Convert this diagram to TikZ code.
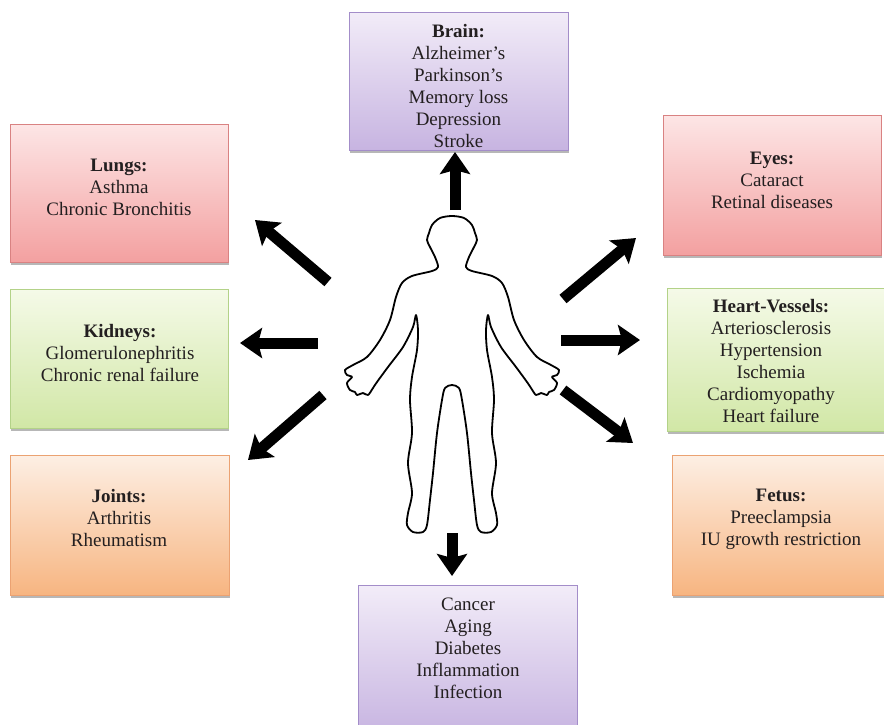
\documentclass[tikz,border=0pt]{standalone}
\usepackage{fontspec}
\setmainfont{Liberation Serif}
\usetikzlibrary{arrows.meta,shadows}

% panel colours: light top, deeper bottom, darker edge
\definecolor{PurpleTop}{HTML}{F2ECF8}
\definecolor{PurpleBot}{HTML}{C7B4E1}
\definecolor{PurpleEdge}{HTML}{A38DC9}
\definecolor{RedTop}{HTML}{FDE6E6}
\definecolor{RedBot}{HTML}{F3A0A0}
\definecolor{RedEdge}{HTML}{D98282}
\definecolor{GreenTop}{HTML}{F5FAE8}
\definecolor{GreenBot}{HTML}{D1E7A6}
\definecolor{GreenEdge}{HTML}{B3D288}
\definecolor{OrangeTop}{HTML}{FDEFE4}
\definecolor{OrangeBot}{HTML}{F7B581}
\definecolor{OrangeEdge}{HTML}{EBA272}
\definecolor{TextInk}{HTML}{231F20}

\begin{document}
\begin{tikzpicture}[x=1pt,y=-1pt,
  panel/.style={rectangle, line width=0.8pt,
    drop shadow={shadow xshift=1.2pt,shadow yshift=-2.5pt,opacity=0.4,fill=black!70}},
  purplepanel/.style={panel, draw=PurpleEdge, top color=PurpleTop, bottom color=PurpleBot},
  redpanel/.style={panel, draw=RedEdge, top color=RedTop, bottom color=RedBot},
  greenpanel/.style={panel, draw=GreenEdge, top color=GreenTop, bottom color=GreenBot},
  orangepanel/.style={panel, draw=OrangeEdge, top color=OrangeTop, bottom color=OrangeBot},
  boxtext/.style={align=center, text=TextInk, inner sep=0pt,
    font=\fontsize{19}{22}\selectfont},
  bigarrow/.style={line width=11pt, draw=black,
    -{Stealth[length=22pt,width=30pt,inset=4pt]}},
  body/.style={line width=1.8pt, line join=round}
]
\useasboundingbox (0,0) rectangle (884,724);
\fill[white] (0,0) rectangle (884,724);

% ---- panels ----
\node[purplepanel, minimum width=219pt, minimum height=138pt] (brainBox)  at (458.5,81)  {};
\node[redpanel,    minimum width=218pt, minimum height=138pt] (lungsBox)  at (119,193)   {};
\node[redpanel,    minimum width=218pt, minimum height=140pt] (eyesBox)   at (772,185)   {};
\node[greenpanel,  minimum width=218pt, minimum height=139pt] (kidneyBox) at (119,358.5) {};
\node[greenpanel,  minimum width=217pt, minimum height=143pt] (heartBox)  at (775.5,359.5) {};
\node[orangepanel, minimum width=219pt, minimum height=140pt] (jointBox)  at (119.5,525) {};
\node[orangepanel, minimum width=218pt, minimum height=140pt] (fetusBox)  at (781,525)   {};
\node[purplepanel, minimum width=219pt, minimum height=150pt] (generalBox) at (467.5,660) {};

% ---- panel texts ----
\node[boxtext] (brainText) at (458.5,86)
  {\textbf{Brain:}\\Alzheimer’s\\Parkinson’s\\Memory loss\\Depression\\Stroke};
\node[boxtext] (lungsText) at (119,187)
  {\textbf{Lungs:}\\Asthma\\Chronic Bronchitis};
\node[boxtext] (eyesText) at (772,180.5)
  {\textbf{Eyes:}\\Cataract\\Retinal diseases};
\node[boxtext] (kidneyText) at (120,352.5)
  {\textbf{Kidneys:}\\Glomerulonephritis\\Chronic renal failure};
\node[boxtext] (heartText) at (771,361)
  {\textbf{Heart-Vessels:}\\Arteriosclerosis\\Hypertension\\Ischemia\\Cardiomyopathy\\Heart failure};
\node[boxtext] (jointText) at (119,518)
  {\textbf{Joints:}\\Arthritis\\Rheumatism};
\node[boxtext] (fetusText) at (781,519)
  {\textbf{Fetus:}\\Preeclampsia\\IU growth restriction};
\node[boxtext] (generalText) at (468,648.5)
  {Cancer\\Aging\\Diabetes\\Inflammation\\Infection};

% ---- body outline ----
\draw[body] plot[smooth cycle, tension=0.5] coordinates {
  (452,216) (440,218) (432,225) (429,233) (427,240) (430,247) (435,257) (438,267)
  (432,271) (412,276) (402,283) (396,297) (390,320) (380,340) (367,357) (353,365)
  (345,370) (347,375) (352,377) (347,383) (350,390) (355,392) (357,395) (363,393)
  (368,395) (373,388) (377,382) (388,367) (403,347) (413,327) (416,315) (418,330)
  (417,350) (412,377) (410,400) (412,433) (408,463) (412,493) (408,513) (407,525)
  (413,532) (423,532) (427,525) (430,500) (433,473) (437,433) (442,400) (445,388)
  (452,385)
  (459,388) (462,400) (467,433) (471,473) (474,500) (477,525) (481,532) (491,532)
  (497,525) (496,513) (492,493) (496,463) (492,433) (494,400) (492,377) (487,350)
  (486,330) (488,315) (491,327) (501,347) (516,367) (527,382) (531,388) (536,395)
  (541,393) (547,395) (549,392) (554,390) (557,383) (552,377) (557,375) (559,370)
  (551,365) (537,357) (524,340) (514,320) (508,297) (502,283) (492,276) (472,271)
  (466,267) (469,257) (474,247) (477,240) (475,233) (472,225) (464,218)};

% ---- arrow ends ----
\coordinate (brainTail)  at (455,210); \coordinate (brainTip)  at (455,152);
\coordinate (lungsTail)  at (328,282); \coordinate (lungsTip)  at (255,220);
\coordinate (kidneyTail) at (318,343); \coordinate (kidneyTip) at (240,343);
\coordinate (jointTail)  at (323,395); \coordinate (jointTip)  at (248,460);
\coordinate (eyesTail)   at (563,299); \coordinate (eyesTip)   at (636,238);
\coordinate (heartTail)  at (561,340); \coordinate (heartTip)  at (640,340);
\coordinate (fetusTail)  at (563,390); \coordinate (fetusTip)  at (633,443);
\coordinate (generalTail) at (452,533); \coordinate (generalTip) at (452,576);

\draw[bigarrow] (brainTail)  -- (brainTip);
\draw[bigarrow] (lungsTail)  -- (lungsTip);
\draw[bigarrow] (kidneyTail) -- (kidneyTip);
\draw[bigarrow] (jointTail)  -- (jointTip);
\draw[bigarrow] (eyesTail)   -- (eyesTip);
\draw[bigarrow] (heartTail)  -- (heartTip);
\draw[bigarrow] (fetusTail)  -- (fetusTip);
\draw[bigarrow] (generalTail) -- (generalTip);
\end{tikzpicture}
\end{document}
